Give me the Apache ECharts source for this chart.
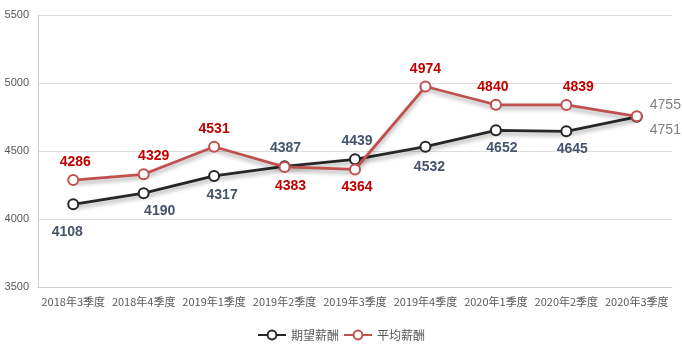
<!DOCTYPE html>
<html>
<head>
<meta charset="utf-8">
<script src="https://cdn.jsdelivr.net/npm/echarts@6/dist/echarts.min.js"></script>
<style>
    html, body { margin: 0; padding: 0; background: #fff; }
    #chart { width: 682px; height: 352px; }
</style>
</head>
<body>
<div id="chart"></div>
<script>
    // 類目與數據
    var categories = ['2018年3季度', '2018年4季度', '2019年1季度', '2019年2季度', '2019年3季度',
        '2019年4季度', '2020年1季度', '2020年2季度', '2020年3季度'];
    var expectSalary = [4108, 4190, 4317, 4387, 4439, 4532, 4652, 4645, 4751];
    var avgSalary = [4286, 4329, 4531, 4383, 4364, 4974, 4840, 4839, 4755];
    var yTicks = [3500, 4000, 4500, 5000, 5500];

    // 標籤位置 (樣式, 跟數據分開)
    var expectLabelPos = [
        ['bottom', [-6, 10]], ['bottom', [16, 0]], ['bottom', [8, 1]], ['top', [1, 0]], ['top', [2, 0]],
        ['bottom', [4, 2]], ['bottom', [6, 0]], ['bottom', [6, 0]], ['right', [2, 13]]
    ];
    var avgLabelPos = [
        ['top', [2, 0]], ['top', [10, 0]], ['top', [0, 0]], ['bottom', [6, 1]], ['bottom', [2, 0]],
        ['top', [0, 1]], ['top', [-3, 0]], ['top', [12, 0]], ['right', [2, -11]]
    ];

    function buildData(values, pos, color, lastColor) {
        return values.map(function (v, i) {
            var last = i === values.length - 1;
            return {
                value: v,
                label: {
                    position: pos[i][0],
                    offset: pos[i][1],
                    color: last ? lastColor : color,
                    fontWeight: last ? 'normal' : 'bold'
                }
            };
        });
    }

    var chart = echarts.init(document.getElementById('chart'));
    var font = '"Liberation Sans", "Noto Sans CJK SC", sans-serif';
    var option = {
        animation: false,
        grid: { left: 38, right: 10, top: 15, bottom: 65 },
        legend: {
            bottom: 6,
            left: 'center',
            itemWidth: 28,
            itemHeight: 11,
            itemGap: 4,
            textStyle: { color: '#595959', fontSize: 12, fontFamily: '"Noto Sans CJK SC", sans-serif' },
            data: ['期望薪酬', '平均薪酬']
        },
        xAxis: {
            type: 'category',
            data: categories,
            boundaryGap: true,
            axisLine: { lineStyle: { color: '#d0d0d0' } },
            axisTick: { show: false },
            axisLabel: { color: '#595959', fontSize: 11, interval: 0, margin: 9, fontFamily: '"Noto Sans CJK SC", sans-serif' }
        },
        yAxis: {
            type: 'value',
            min: yTicks[0],
            max: yTicks[yTicks.length - 1],
            interval: 500,
            axisLine: { show: true, lineStyle: { color: '#d0d0d0' } },
            axisTick: { show: false },
            splitLine: { lineStyle: { color: '#dcdcdc' } },
            axisLabel: {
                color: '#595959', fontSize: 11, margin: 9, fontFamily: font,
                formatter: function (v) { return String(v); }
            }
        },
        series: [
            {
                name: '期望薪酬',
                type: 'line',
                data: buildData(expectSalary, expectLabelPos, '#44546a', '#7f7f7f'),
                symbol: 'emptyCircle',
                symbolSize: 10,
                color: '#262626',
                lineStyle: { width: 2.75, shadowColor: 'rgba(0,0,0,0.35)', shadowBlur: 4, shadowOffsetY: 3 },
                itemStyle: { borderWidth: 3, color: '#262626' },
                label: { show: true, fontSize: 14, fontFamily: font },
                z: 3
            },
            {
                name: '平均薪酬',
                type: 'line',
                data: buildData(avgSalary, avgLabelPos, '#c00000', '#7f7f7f'),
                symbol: 'emptyCircle',
                symbolSize: 10,
                color: '#c0504d',
                lineStyle: { width: 2.75, shadowColor: 'rgba(0,0,0,0.35)', shadowBlur: 4, shadowOffsetY: 3 },
                itemStyle: { borderWidth: 3, color: '#c0504d' },
                label: { show: true, fontSize: 14, fontFamily: font },
                z: 4
            }
        ]
    };
    chart.setOption(option);
</script>
</body>
</html>
